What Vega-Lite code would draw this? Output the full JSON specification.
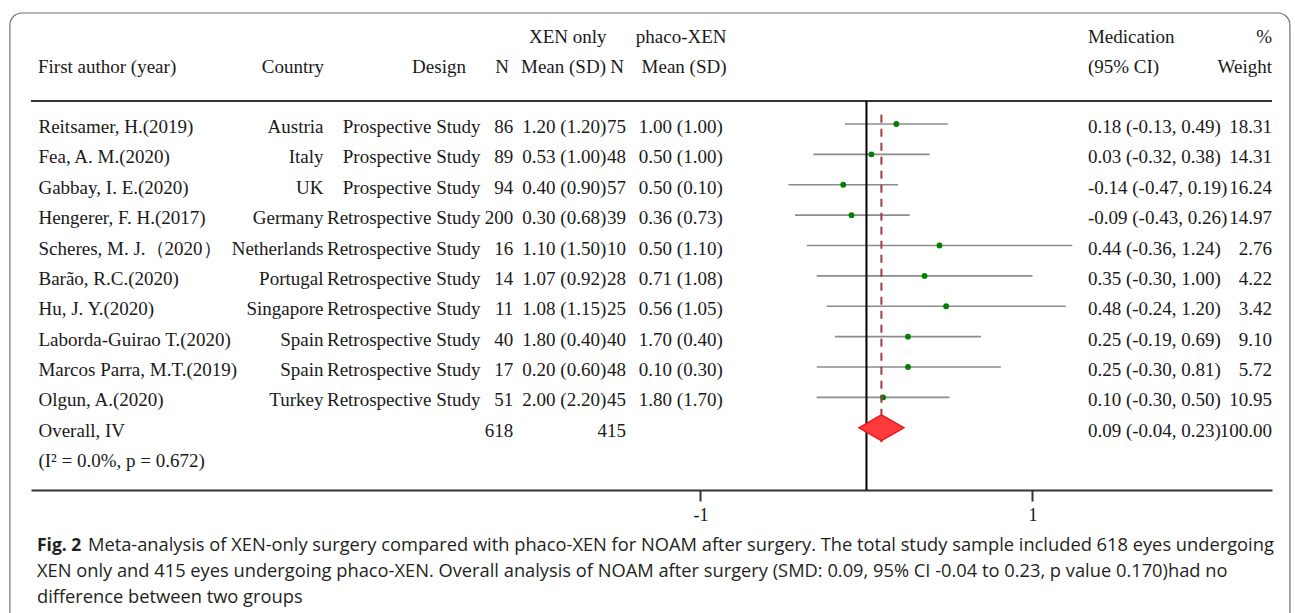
{
  "$schema": "https://vega.github.io/schema/vega-lite/v6.json",
  "autosize": {"type": "none"},
  "width": 1241,
  "height": 470,
  "padding": {"left": 31, "top": 20, "right": 23, "bottom": 123},
  "background": "white",
  "config": {
    "view": {"stroke": null},
    "text": {"font": "Liberation Serif", "fontSize": 19, "color": "#1a1a1a", "baseline": "middle", "dy": 3}
  },
  "datasets": {
    "studies": [
      {"kind": "study", "r": 1, "author": "Reitsamer, H.(2019)", "country": "Austria", "design": "Prospective Study", "n1": "86", "m1": "1.20 (1.20)", "n2": "75", "m2": "1.00 (1.00)", "es": 0.18, "lo": -0.13, "hi": 0.49, "ci": "0.18 (-0.13, 0.49)", "w": "18.31"},
      {"kind": "study", "r": 2, "author": "Fea, A. M.(2020)", "country": "Italy", "design": "Prospective Study", "n1": "89", "m1": "0.53 (1.00)", "n2": "48", "m2": "0.50 (1.00)", "es": 0.03, "lo": -0.32, "hi": 0.38, "ci": "0.03 (-0.32, 0.38)", "w": "14.31"},
      {"kind": "study", "r": 3, "author": "Gabbay, I. E.(2020)", "country": "UK", "design": "Prospective Study", "n1": "94", "m1": "0.40 (0.90)", "n2": "57", "m2": "0.50 (0.10)", "es": -0.14, "lo": -0.47, "hi": 0.19, "ci": "-0.14 (-0.47, 0.19)", "w": "16.24"},
      {"kind": "study", "r": 4, "author": "Hengerer, F. H.(2017)", "country": "Germany", "design": "Retrospective Study", "n1": "200", "m1": "0.30 (0.68)", "n2": "39", "m2": "0.36 (0.73)", "es": -0.09, "lo": -0.43, "hi": 0.26, "ci": "-0.09 (-0.43, 0.26)", "w": "14.97"},
      {"kind": "study", "r": 5, "author": "Scheres, M. J.（2020）", "country": "Netherlands", "design": "Retrospective Study", "n1": "16", "m1": "1.10 (1.50)", "n2": "10", "m2": "0.50 (1.10)", "es": 0.44, "lo": -0.36, "hi": 1.24, "ci": "0.44 (-0.36, 1.24)", "w": "2.76"},
      {"kind": "study", "r": 6, "author": "Barão, R.C.(2020)", "country": "Portugal", "design": "Retrospective Study", "n1": "14", "m1": "1.07 (0.92)", "n2": "28", "m2": "0.71 (1.08)", "es": 0.35, "lo": -0.30, "hi": 1.00, "ci": "0.35 (-0.30, 1.00)", "w": "4.22"},
      {"kind": "study", "r": 7, "author": "Hu, J. Y.(2020)", "country": "Singapore", "design": "Retrospective Study", "n1": "11", "m1": "1.08 (1.15)", "n2": "25", "m2": "0.56 (1.05)", "es": 0.48, "lo": -0.24, "hi": 1.20, "ci": "0.48 (-0.24, 1.20)", "w": "3.42"},
      {"kind": "study", "r": 8, "author": "Laborda-Guirao T.(2020)", "country": "Spain", "design": "Retrospective Study", "n1": "40", "m1": "1.80 (0.40)", "n2": "40", "m2": "1.70 (0.40)", "es": 0.25, "lo": -0.19, "hi": 0.69, "ci": "0.25 (-0.19, 0.69)", "w": "9.10"},
      {"kind": "study", "r": 9, "author": "Marcos Parra, M.T.(2019)", "country": "Spain", "design": "Retrospective Study", "n1": "17", "m1": "0.20 (0.60)", "n2": "48", "m2": "0.10 (0.30)", "es": 0.25, "lo": -0.30, "hi": 0.81, "ci": "0.25 (-0.30, 0.81)", "w": "5.72"},
      {"kind": "study", "r": 10, "author": "Olgun, A.(2020)", "country": "Turkey", "design": "Retrospective Study", "n1": "51", "m1": "2.00 (2.20)", "n2": "45", "m2": "1.80 (1.70)", "es": 0.10, "lo": -0.30, "hi": 0.50, "ci": "0.10 (-0.30, 0.50)", "w": "10.95"},
      {"kind": "overall", "r": 11, "author": "Overall, IV", "n1": "618", "n2": "415", "es": 0.09, "lo": -0.04, "hi": 0.23, "ci": "0.09 (-0.04, 0.23)", "w": "100.00"},
      {"kind": "het", "r": 12, "author": "(I² = 0.0%, p = 0.672)"}
    ],
    "header": [
      {"r": -1.96, "xen": "XEN only", "m2": "phaco-XEN", "med": "Medication", "pct": "%"},
      {"r": -0.97, "author": "First author (year)", "country": "Country", "design": "Design", "n1": "N", "m1": "Mean (SD)", "n2": "N", "m2": "Mean (SD)", "med": "(95% CI)", "pct": "Weight"}
    ],
    "caption": [
      {"part": "fig", "text": "Fig. 2"},
      {"part": "l1", "text": "Meta-analysis of XEN-only surgery compared with phaco-XEN for NOAM after surgery. The total study sample included 618 eyes undergoing"},
      {"part": "l2", "text": "XEN only and 415 eyes undergoing phaco-XEN. Overall analysis of NOAM after surgery (SMD: 0.09, 95% CI -0.04 to 0.23, p value 0.170)had no"},
      {"part": "l3", "text": "difference between two groups"}
    ],
    "frame": [{"item": "border"}]
  },
  "layer": [
    {
      "data": {"name": "studies"},
      "transform": [{"filter": "datum.kind == 'study'"}],
      "mark": {"type": "rule", "color": "#8c8c8c", "strokeWidth": 1.6},
      "encoding": {
        "x": {"field": "lo", "type": "quantitative", "title": null,
          "scale": {"domain": [-5.033, 2.443], "nice": false, "zero": false},
          "axis": {"values": [-1, 1], "title": null, "grid": false, "domainColor": "#333333", "domainWidth": 2, "tickColor": "#333333", "tickWidth": 2, "tickSize": 11, "labelFont": "Liberation Serif", "labelFontSize": 18, "labelColor": "#1a1a1a", "labelPadding": 5, "labelExpr": "datum.value < 0 ? '-' + (-datum.value) : '' + datum.value"}},
        "x2": {"field": "hi"},
        "y": {"field": "r", "type": "quantitative", "scale": {"domain": [-2.423, 13.048], "nice": false, "zero": false, "reverse": true}, "axis": null}
      }
    },
    {
      "data": {"name": "frame"},
      "mark": {"type": "rect", "cornerRadius": 12, "fill": "transparent", "stroke": "#707070", "strokeWidth": 1.2, "clip": false},
      "encoding": {
        "x": {"datum": -5.16, "type": "quantitative"},
        "x2": {"datum": 2.551},
        "y": {"datum": -2.653, "type": "quantitative", "axis": null},
        "y2": {"datum": 19}
      }
    },
    {
      "data": {"name": "frame"},
      "mark": {"type": "rule", "color": "#333333", "strokeWidth": 2},
      "encoding": {
        "x": {"datum": -5.033, "type": "quantitative"},
        "x2": {"datum": 2.443},
        "y": {"datum": 0.244, "type": "quantitative", "axis": null}
      }
    },
    {
      "data": {"name": "frame"},
      "mark": {"type": "rule", "color": "#000000", "strokeWidth": 2},
      "encoding": {
        "x": {"datum": 0, "type": "quantitative"},
        "y": {"datum": 0.244, "type": "quantitative", "axis": null},
        "y2": {"datum": 13.048}
      }
    },
    {
      "data": {"name": "studies"},
      "transform": [{"filter": "datum.kind == 'study'"}],
      "mark": {"type": "point", "filled": true, "color": "#008000", "size": 34, "opacity": 1},
      "encoding": {
        "x": {"field": "es", "type": "quantitative", "title": null},
        "y": {"field": "r", "type": "quantitative", "axis": null}
      }
    },
    {
      "data": {"name": "studies"},
      "transform": [{"filter": "datum.kind == 'overall'"}],
      "mark": {"type": "rule", "color": "#a33a3f", "strokeWidth": 2, "strokeDash": [8, 6]},
      "encoding": {
        "x": {"field": "es", "type": "quantitative", "title": null},
        "y": {"datum": 0.7, "type": "quantitative", "axis": null},
        "y2": {"datum": 11.48}
      }
    },
    {
      "data": {"name": "studies"},
      "transform": [{"filter": "datum.kind == 'overall'"}],
      "mark": {"type": "point", "shape": "M-1,0L0,-0.57L1,0L0,0.57Z", "filled": true, "fill": "#ff3a3a", "stroke": "#e81818", "strokeWidth": 1.5, "size": 2025, "opacity": 1},
      "encoding": {
        "x": {"field": "es", "type": "quantitative", "title": null},
        "y": {"field": "r", "type": "quantitative", "axis": null}
      }
    },
    {
      "data": {"name": "studies"},
      "mark": {"type": "text", "align": "left"},
      "encoding": {
        "x": {"datum": -4.988, "type": "quantitative"},
        "y": {"field": "r", "type": "quantitative", "axis": null},
        "text": {"field": "author", "type": "nominal"}
      }
    },
    {
      "data": {"name": "studies"},
      "transform": [{"filter": "isValid(datum.country)"}],
      "mark": {"type": "text", "align": "right"},
      "encoding": {
        "x": {"datum": -3.271, "type": "quantitative"},
        "y": {"field": "r", "type": "quantitative", "axis": null},
        "text": {"field": "country", "type": "nominal"}
      }
    },
    {
      "data": {"name": "studies"},
      "transform": [{"filter": "isValid(datum.design)"}],
      "mark": {"type": "text", "align": "right"},
      "encoding": {
        "x": {"datum": -2.325, "type": "quantitative"},
        "y": {"field": "r", "type": "quantitative", "axis": null},
        "text": {"field": "design", "type": "nominal"}
      }
    },
    {
      "data": {"name": "studies"},
      "transform": [{"filter": "isValid(datum.n1)"}],
      "mark": {"type": "text", "align": "right"},
      "encoding": {
        "x": {"datum": -2.128, "type": "quantitative"},
        "y": {"field": "r", "type": "quantitative", "axis": null},
        "text": {"field": "n1", "type": "nominal"}
      }
    },
    {
      "data": {"name": "studies"},
      "transform": [{"filter": "isValid(datum.m1)"}],
      "mark": {"type": "text", "align": "left"},
      "encoding": {
        "x": {"datum": -2.073, "type": "quantitative"},
        "y": {"field": "r", "type": "quantitative", "axis": null},
        "text": {"field": "m1", "type": "nominal"}
      }
    },
    {
      "data": {"name": "studies"},
      "transform": [{"filter": "isValid(datum.n2)"}],
      "mark": {"type": "text", "align": "right"},
      "encoding": {
        "x": {"datum": -1.449, "type": "quantitative"},
        "y": {"field": "r", "type": "quantitative", "axis": null},
        "text": {"field": "n2", "type": "nominal"}
      }
    },
    {
      "data": {"name": "studies"},
      "transform": [{"filter": "isValid(datum.m2)"}],
      "mark": {"type": "text", "align": "right"},
      "encoding": {
        "x": {"datum": -0.866, "type": "quantitative"},
        "y": {"field": "r", "type": "quantitative", "axis": null},
        "text": {"field": "m2", "type": "nominal"}
      }
    },
    {
      "data": {"name": "studies"},
      "transform": [{"filter": "isValid(datum.ci)"}],
      "mark": {"type": "text", "align": "left"},
      "encoding": {
        "x": {"datum": 1.334, "type": "quantitative"},
        "y": {"field": "r", "type": "quantitative", "axis": null},
        "text": {"field": "ci", "type": "nominal"}
      }
    },
    {
      "data": {"name": "studies"},
      "transform": [{"filter": "isValid(datum.w)"}],
      "mark": {"type": "text", "align": "right"},
      "encoding": {
        "x": {"datum": 2.443, "type": "quantitative"},
        "y": {"field": "r", "type": "quantitative", "axis": null},
        "text": {"field": "w", "type": "nominal"}
      }
    },
    {
      "data": {"name": "header"},
      "transform": [{"filter": "isValid(datum.author)"}],
      "mark": {"type": "text", "align": "left"},
      "encoding": {
        "x": {"datum": -4.991, "type": "quantitative"},
        "y": {"field": "r", "type": "quantitative", "axis": null},
        "text": {"field": "author", "type": "nominal"}
      }
    },
    {
      "data": {"name": "header"},
      "transform": [{"filter": "isValid(datum.country)"}],
      "mark": {"type": "text", "align": "right"},
      "encoding": {
        "x": {"datum": -3.268, "type": "quantitative"},
        "y": {"field": "r", "type": "quantitative", "axis": null},
        "text": {"field": "country", "type": "nominal"}
      }
    },
    {
      "data": {"name": "header"},
      "transform": [{"filter": "isValid(datum.design)"}],
      "mark": {"type": "text", "align": "right"},
      "encoding": {
        "x": {"datum": -2.413, "type": "quantitative"},
        "y": {"field": "r", "type": "quantitative", "axis": null},
        "text": {"field": "design", "type": "nominal"}
      }
    },
    {
      "data": {"name": "header"},
      "transform": [{"filter": "isValid(datum.n1)"}],
      "mark": {"type": "text", "align": "right"},
      "encoding": {
        "x": {"datum": -2.154, "type": "quantitative"},
        "y": {"field": "r", "type": "quantitative", "axis": null},
        "text": {"field": "n1", "type": "nominal"}
      }
    },
    {
      "data": {"name": "header"},
      "transform": [{"filter": "isValid(datum.m1)"}],
      "mark": {"type": "text", "align": "left"},
      "encoding": {
        "x": {"datum": -2.081, "type": "quantitative"},
        "y": {"field": "r", "type": "quantitative", "axis": null},
        "text": {"field": "m1", "type": "nominal"}
      }
    },
    {
      "data": {"name": "header"},
      "transform": [{"filter": "isValid(datum.xen)"}],
      "mark": {"type": "text", "align": "left"},
      "encoding": {
        "x": {"datum": -2.033, "type": "quantitative"},
        "y": {"field": "r", "type": "quantitative", "axis": null},
        "text": {"field": "xen", "type": "nominal"}
      }
    },
    {
      "data": {"name": "header"},
      "transform": [{"filter": "isValid(datum.n2)"}],
      "mark": {"type": "text", "align": "right"},
      "encoding": {
        "x": {"datum": -1.461, "type": "quantitative"},
        "y": {"field": "r", "type": "quantitative", "axis": null},
        "text": {"field": "n2", "type": "nominal"}
      }
    },
    {
      "data": {"name": "header"},
      "transform": [{"filter": "isValid(datum.m2)"}],
      "mark": {"type": "text", "align": "right"},
      "encoding": {
        "x": {"datum": -0.843, "type": "quantitative"},
        "y": {"field": "r", "type": "quantitative", "axis": null},
        "text": {"field": "m2", "type": "nominal"}
      }
    },
    {
      "data": {"name": "header"},
      "transform": [{"filter": "isValid(datum.med)"}],
      "mark": {"type": "text", "align": "left"},
      "encoding": {
        "x": {"datum": 1.334, "type": "quantitative"},
        "y": {"field": "r", "type": "quantitative", "axis": null},
        "text": {"field": "med", "type": "nominal"}
      }
    },
    {
      "data": {"name": "header"},
      "transform": [{"filter": "isValid(datum.pct)"}],
      "mark": {"type": "text", "align": "right"},
      "encoding": {
        "x": {"datum": 2.443, "type": "quantitative"},
        "y": {"field": "r", "type": "quantitative", "axis": null},
        "text": {"field": "pct", "type": "nominal"}
      }
    },
    {
      "data": {"name": "caption"},
      "transform": [{"filter": "datum.part == 'fig'"}],
      "mark": {"type": "text", "align": "left", "font": "Open Sans", "fontSize": 17.5, "fontWeight": "bold", "color": "#231f20", "dy": 1},
      "encoding": {
        "x": {"datum": -4.997, "type": "quantitative"},
        "y": {"datum": 14.86, "type": "quantitative", "axis": null},
        "text": {"field": "text", "type": "nominal"}
      }
    },
    {
      "data": {"name": "caption"},
      "transform": [{"filter": "datum.part == 'l1'"}],
      "mark": {"type": "text", "align": "left", "font": "Open Sans", "fontSize": 18.3, "color": "#231f20", "dy": 1},
      "encoding": {
        "x": {"datum": -4.690, "type": "quantitative"},
        "y": {"datum": 14.86, "type": "quantitative", "axis": null},
        "text": {"field": "text", "type": "nominal"}
      }
    },
    {
      "data": {"name": "caption"},
      "transform": [{"filter": "datum.part == 'l2'"}],
      "mark": {"type": "text", "align": "left", "font": "Open Sans", "fontSize": 18.3, "color": "#231f20", "dy": 1},
      "encoding": {
        "x": {"datum": -4.997, "type": "quantitative"},
        "y": {"datum": 15.716, "type": "quantitative", "axis": null},
        "text": {"field": "text", "type": "nominal"}
      }
    },
    {
      "data": {"name": "caption"},
      "transform": [{"filter": "datum.part == 'l3'"}],
      "mark": {"type": "text", "align": "left", "font": "Open Sans", "fontSize": 18.3, "color": "#231f20", "dy": 1},
      "encoding": {
        "x": {"datum": -4.997, "type": "quantitative"},
        "y": {"datum": 16.57, "type": "quantitative", "axis": null},
        "text": {"field": "text", "type": "nominal"}
      }
    }
  ]
}
